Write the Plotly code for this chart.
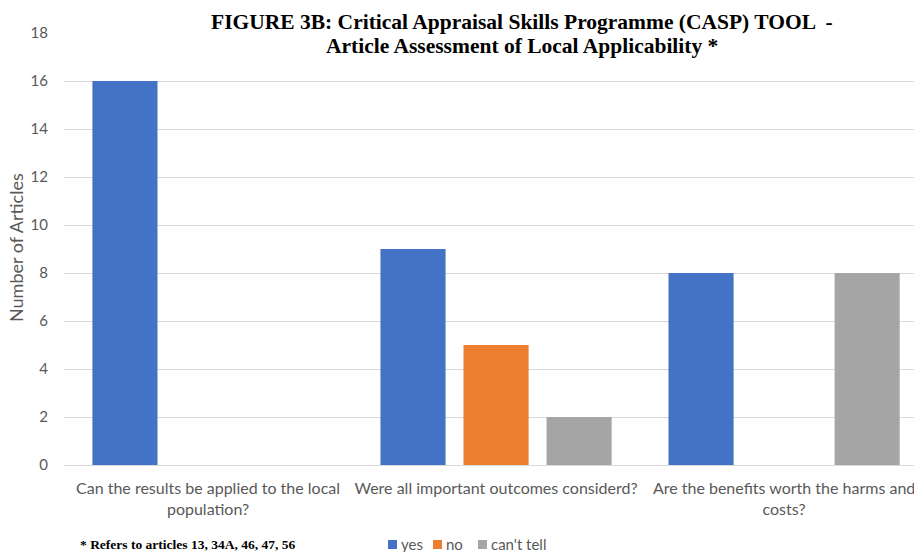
import plotly.graph_objects as go

categories = [
    "Can the results be applied to the local<br>population?",
    "Were all important outcomes considerd?",
    "Are the benefits worth the harms and<br>costs?",
]
yes_vals = [16, 9, 8]
no_vals = [0, 5, 0]
cant_tell_vals = [0, 2, 8]
y_ticks = [0, 2, 4, 6, 8, 10, 12, 14, 16, 18]

series_names = ["yes", "no", "can't tell"]
series_colors = ["#4472C4", "#ED7D31", "#A5A5A5"]

W, H = 914, 552
L, R, T, B = 64, 0, 33, 87
plot_w = W - L - R
plot_h = H - T - B

def px_x(p):
    return (p - L) / plot_w

def px_y(p):
    return (H - B - p) / plot_h

FONT = "Lato, Carlito, Calibri, sans-serif"
SERIF = "Liberation Serif, Times New Roman, serif"
grey = "#595959"

fig = go.Figure()
for name, vals, color in zip(series_names, [yes_vals, no_vals, cant_tell_vals], series_colors):
    fig.add_trace(go.Bar(x=list(range(len(categories))), y=vals, name=name,
                         marker=dict(color=color, line=dict(width=0)), showlegend=False))

fig.update_layout(
    width=W, height=H,
    margin=dict(l=L, r=R, t=T, b=B, pad=0),
    paper_bgcolor="white", plot_bgcolor="white",
    barmode="group", bargap=0.135, bargroupgap=0.216,
    font=dict(family=FONT, color=grey, size=15),
    xaxis=dict(range=[-0.5, 2.451], tickmode="array", tickvals=[0, 1, 2], ticktext=categories,
               tickangle=0, showgrid=False, zeroline=False, showline=False, ticks="",
               automargin=False, tickfont=dict(family=FONT, size=16, color=grey),
               ticklabelstandoff=12, ticklabeloverflow="allow"),
    yaxis=dict(range=[0, 18], tickvals=y_ticks, showgrid=True, gridcolor="#d9d9d9", gridwidth=1,
               zeroline=True, zerolinecolor="#d9d9d9", zerolinewidth=1, showline=False,
               ticks="", automargin=False, tickfont=dict(family=FONT, size=15, color=grey),
               ticklabelstandoff=15),
    showlegend=False,
)

# Title, two lines
fig.add_annotation(
    text="<b>FIGURE 3B: Critical Appraisal Skills Programme (CASP) TOOL  -</b>",
    xref="paper", yref="paper", x=px_x(522), y=px_y(22), xanchor="center", yanchor="middle",
    showarrow=False, font=dict(family=SERIF, size=21.5, color="black"),
)
fig.add_annotation(
    text="<b>Article Assessment of Local Applicability *</b>",
    xref="paper", yref="paper", x=px_x(522), y=px_y(46), xanchor="center", yanchor="middle",
    showarrow=False, font=dict(family=SERIF, size=21.5, color="black"),
)
# Axis title
fig.add_annotation(
    text="Number of Articles", textangle=-90,
    xref="paper", yref="paper", x=px_x(16), y=px_y(248), xanchor="center", yanchor="middle",
    showarrow=False, font=dict(family=FONT, size=18, color=grey),
)
# Footnote
fig.add_annotation(
    text="<b>* Refers to articles 13, 34A, 46, 47, 56</b>",
    xref="paper", yref="paper", x=px_x(78), y=px_y(544), xanchor="left", yanchor="middle",
    showarrow=False, font=dict(family=SERIF, size=13.5, color="black"),
)

# Legend keys
legend_x = [388, 433, 478]
for name, color, lx in zip(series_names, series_colors, legend_x):
    fig.add_shape(type="rect", xref="paper", yref="paper",
                  x0=px_x(lx), x1=px_x(lx + 9), y0=px_y(540), y1=px_y(549),
                  fillcolor=color, line=dict(width=0))
    fig.add_annotation(text=name, xref="paper", yref="paper", x=px_x(lx + 11), y=px_y(544),
                       xanchor="left", yanchor="middle", showarrow=False,
                       font=dict(family=FONT, size=15, color=grey))

fig.write_html("out.html")
